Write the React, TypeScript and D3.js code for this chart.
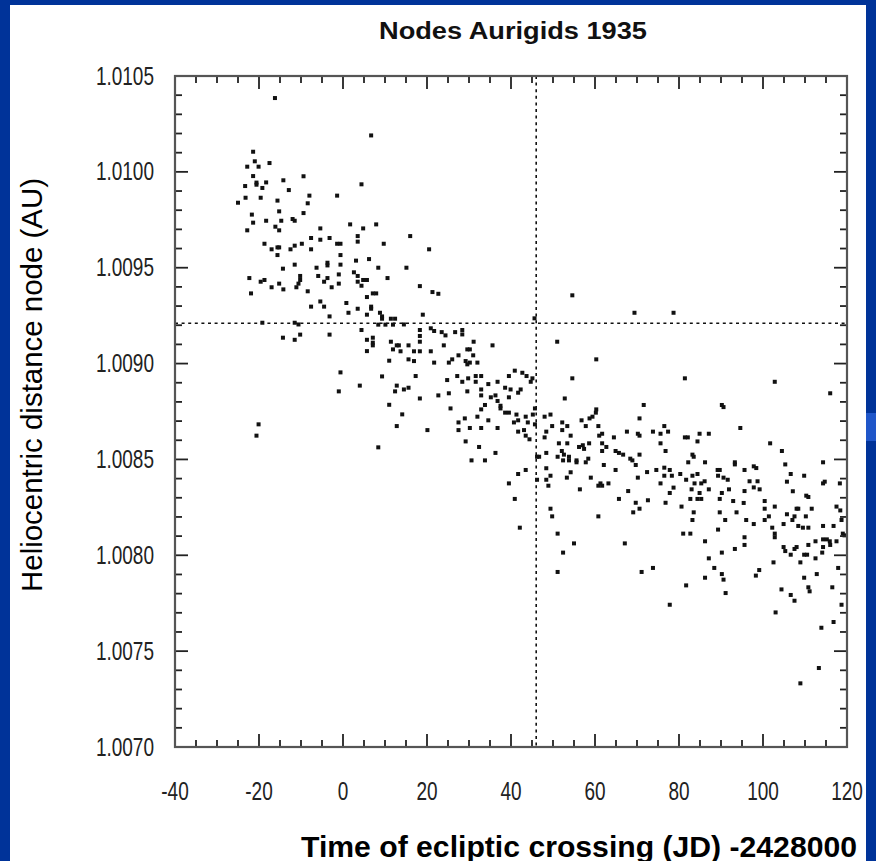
import React from "react";
import * as d3 from "d3";

const chartTitle = "Nodes Aurigids 1935";
const xTitle = "Time of ecliptic crossing (JD) -2428000";
const yTitle = "Heliocentric distance node (AU)";
const xDomain: [number, number] = [-40, 120];
const yDomain: [number, number] = [1.007, 1.0105];
const xTickValues = [-40, -20, 0, 20, 40, 60, 80, 100, 120];
const yTickValues = [1.007, 1.0075, 1.008, 1.0085, 1.009, 1.0095, 1.01, 1.0105];
const refDay = 46;
const refDist = 1.00921;

// [day, heliocentric distance of node (AU)]
const nodes: [number, number][] = [
  [-16.2, 1.010385], [6.7, 1.01019], [-21.4, 1.010105], [-21.0, 1.010055], [-22.8, 1.010027],
  [-20.1, 1.010027], [-17.5, 1.010046], [-21.4, 1.009978], [-9.4, 1.009977], [-23.3, 1.009926],
  [-20.6, 1.009944], [-20.6, 1.009933], [-18.3, 1.009945], [-19.2, 1.009916], [-14.2, 1.009956],
  [-12.9, 1.009905], [4.4, 1.009935], [-23.2, 1.009865], [-19.6, 1.009865], [-25.0, 1.009839],
  [-15.6, 1.00985], [-8.0, 1.009876], [-8.4, 1.009836], [-1.4, 1.009876], [-21.7, 1.009777],
  [-21.4, 1.009735], [-22.8, 1.009695], [-18.3, 1.009745], [-15.2, 1.009794], [-14.7, 1.009745],
  [-16.1, 1.009714], [-15.2, 1.009695], [-12.0, 1.009754], [-11.5, 1.009745], [-9.4, 1.009785],
  [1.7, 1.009726], [4.8, 1.009705], [7.9, 1.009726], [-5.4, 1.009705], [3.5, 1.009665],
  [3.5, 1.009636], [-18.7, 1.009625], [-17.0, 1.009596], [-15.6, 1.009606], [-15.2, 1.009606],
  [-15.6, 1.009566], [-12.5, 1.009596], [-11.5, 1.009615], [-9.8, 1.009625], [-7.6, 1.009655],
  [-7.6, 1.009596], [-5.4, 1.009646], [-3.2, 1.009655], [-1.4, 1.009625], [-0.6, 1.009625],
  [9.7, 1.009625], [-0.6, 1.009566], [3.1, 1.009537], [6.2, 1.009545], [-14.3, 1.009495],
  [-11.5, 1.009516], [-6.3, 1.0095], [-3.7, 1.009526], [-3.7, 1.009512], [-0.6, 1.009516],
  [8.4, 1.0095], [-22.3, 1.009446], [-19.6, 1.009427], [-18.7, 1.009436], [-17.0, 1.009398],
  [-15.2, 1.009417], [-14.2, 1.009387], [-21.9, 1.009366], [-11.1, 1.009398], [-10.6, 1.009417],
  [-10.2, 1.009457], [-10.2, 1.009436], [-8.4, 1.009377], [-5.9, 1.009457], [-4.5, 1.009427],
  [-3.7, 1.009446], [-2.7, 1.009398], [-1.0, 1.009465], [-1.0, 1.009417], [2.6, 1.009476],
  [3.5, 1.009457], [3.5, 1.009427], [4.4, 1.009406], [4.8, 1.009436], [5.7, 1.009436],
  [10.6, 1.009446], [7.1, 1.009366], [7.9, 1.009366], [5.7, 1.009347], [-5.4, 1.009324],
  [-7.6, 1.009297], [-4.5, 1.009297], [0.8, 1.009316], [1.3, 1.009265], [3.5, 1.009286],
  [6.7, 1.009297], [6.7, 1.009286], [5.7, 1.009255], [-3.2, 1.009246], [8.8, 1.009265],
  [9.3, 1.009246], [-19.2, 1.009213], [-11.5, 1.009213], [-10.6, 1.009204], [8.4, 1.009203],
  [10.1, 1.009203], [11.4, 1.009234], [12.4, 1.009234], [11.9, 1.009203], [9.3, 1.009234],
  [4.4, 1.009175], [-10.2, 1.009151], [-3.2, 1.009151], [-14.3, 1.009135], [-11.5, 1.009124],
  [5.7, 1.009124], [7.1, 1.009135], [7.1, 1.009109], [7.1, 1.009095], [5.7, 1.009065],
  [11.4, 1.009114], [11.9, 1.009074], [12.8, 1.009095], [11.0, 1.009015], [-0.6, 1.008954],
  [9.3, 1.008933], [-1.0, 1.008855], [4.0, 1.008885], [12.4, 1.008855], [12.8, 1.008885],
  [11.0, 1.008785],
  [-20.1, 1.008683], [-20.6, 1.008624], [8.4, 1.008563], [12.8, 1.008674],
  [16.0, 1.009665], [20.5, 1.009596], [15.1, 1.0095], [18.3, 1.009404], [21.3, 1.009373],
  [22.7, 1.009364], [54.6, 1.009356], [19.0, 1.009255], [45.6, 1.009236], [14.5, 1.009204],
  [18.3, 1.009175], [18.3, 1.009144], [18.3, 1.009114], [20.9, 1.009184], [21.7, 1.00917],
  [23.5, 1.009164], [24.4, 1.009147], [26.7, 1.009164], [28.4, 1.009175], [28.4, 1.009152],
  [13.3, 1.009095], [15.6, 1.009095], [13.7, 1.009064], [16.9, 1.009064], [18.3, 1.009064],
  [20.9, 1.009064], [24.0, 1.009095], [31.1, 1.009114], [35.6, 1.009095], [51.0, 1.009114],
  [29.6, 1.009074], [30.2, 1.009074], [15.6, 1.009022], [16.9, 1.009013], [21.7, 1.009005],
  [25.2, 1.009005], [26.0, 1.009022], [27.5, 1.009043], [29.2, 1.009013], [30.2, 1.009005],
  [29.6, 1.008996], [31.0, 1.009043], [32.0, 1.009005], [60.3, 1.009022], [17.3, 1.008935],
  [24.8, 1.008914], [27.2, 1.008935], [28.4, 1.008905], [29.8, 1.008923], [31.6, 1.008935],
  [32.9, 1.008935], [31.6, 1.008905], [34.6, 1.008893], [36.8, 1.008905], [39.5, 1.008935],
  [40.9, 1.008963], [42.7, 1.008952], [43.7, 1.008935], [45.1, 1.008923], [44.7, 1.008905],
  [54.6, 1.008923], [14.5, 1.008865], [15.6, 1.008874], [22.7, 1.008834], [25.2, 1.008845],
  [29.6, 1.008855], [32.9, 1.008865], [32.9, 1.008834], [35.2, 1.008824], [36.3, 1.008834],
  [36.8, 1.008805], [38.6, 1.008874], [39.5, 1.008824], [39.9, 1.008865], [41.7, 1.008848],
  [42.3, 1.008865], [18.3, 1.008818], [52.8, 1.008818], [25.6, 1.008766], [33.8, 1.008784],
  [32.9, 1.008761], [37.5, 1.00878], [45.7, 1.008766], [60.3, 1.008761], [37.5, 1.008766],
  [69.4, 1.009265], [78.7, 1.009265], [81.4, 1.008923], [102.8, 1.008905], [116.0, 1.008845],
  [71.6, 1.008784], [90.2, 1.008784], [90.6, 1.008773],
  [14.1, 1.008735], [20.1, 1.008653], [27.5, 1.008693], [27.5, 1.008653], [29.0, 1.008714],
  [32.0, 1.008723], [30.2, 1.008664], [32.9, 1.008664], [34.6, 1.008704], [36.8, 1.008664],
  [29.2, 1.008594], [32.4, 1.008565], [30.6, 1.008495], [33.8, 1.008495], [36.3, 1.008534],
  [38.6, 1.008744], [39.5, 1.008744], [41.3, 1.008734], [40.7, 1.008693], [41.7, 1.008704],
  [43.5, 1.008723], [44.0, 1.008693], [45.2, 1.008734], [45.7, 1.008683], [41.7, 1.008645],
  [43.1, 1.008653], [43.5, 1.008624], [44.4, 1.008605], [48.0, 1.008723], [49.4, 1.008734],
  [49.8, 1.008674], [48.4, 1.008645], [48.0, 1.008615], [46.2, 1.008514], [46.7, 1.008514],
  [48.4, 1.008534], [52.2, 1.008693], [52.2, 1.008653], [53.4, 1.008674], [54.2, 1.008624],
  [56.8, 1.008704], [57.8, 1.008674], [58.7, 1.008714], [59.4, 1.008723], [60.2, 1.008744],
  [60.8, 1.008674], [61.0, 1.008624], [61.7, 1.008634], [64.5, 1.008615], [51.4, 1.008584],
  [53.4, 1.008584], [56.2, 1.008565], [57.1, 1.008574], [57.4, 1.008555], [58.6, 1.008584],
  [61.7, 1.008584], [62.7, 1.008565], [61.7, 1.008544], [52.1, 1.008544], [51.1, 1.008514],
  [52.6, 1.008525], [52.4, 1.008495], [53.8, 1.008514], [53.8, 1.008495], [55.6, 1.008495],
  [55.6, 1.008485], [57.8, 1.008485], [58.4, 1.008504], [64.9, 1.008544], [65.7, 1.008534],
  [62.1, 1.008471], [64.9, 1.008445], [48.4, 1.008454], [48.4, 1.008394], [49.4, 1.008415],
  [48.9, 1.008363], [46.2, 1.008394], [43.5, 1.008445], [41.7, 1.008424], [39.5, 1.008375],
  [40.9, 1.008294], [42.1, 1.008144], [54.2, 1.008433], [53.3, 1.008405], [59.0, 1.008405],
  [56.4, 1.008344], [60.8, 1.008363], [61.3, 1.008375], [61.7, 1.008363], [63.2, 1.008375],
  [65.7, 1.008294], [49.4, 1.008243], [49.8, 1.008203], [60.8, 1.008203], [51.1, 1.008113],
  [55.0, 1.008062], [52.4, 1.008014], [51.1, 1.007913],
  [70.6, 1.008714], [67.6, 1.008645], [70.2, 1.008634], [70.6, 1.008624], [73.8, 1.008645],
  [75.6, 1.008634], [76.5, 1.008674], [77.4, 1.008645], [75.6, 1.008584], [76.8, 1.008544],
  [81.4, 1.008615], [82.1, 1.008615], [84.4, 1.008594], [84.9, 1.008634], [87.1, 1.008634],
  [94.6, 1.008664], [101.7, 1.008584], [104.5, 1.008544], [66.7, 1.008525], [68.4, 1.008504],
  [68.9, 1.008495], [70.6, 1.008525], [69.7, 1.008471], [70.2, 1.008405], [67.9, 1.008335],
  [72.4, 1.008434], [74.6, 1.008445], [76.5, 1.008457], [77.8, 1.008445], [76.5, 1.008415],
  [78.3, 1.008415], [75.6, 1.008375], [78.7, 1.008353], [77.8, 1.008325], [76.8, 1.008274],
  [72.6, 1.008287], [69.7, 1.008274], [69.1, 1.008224], [70.6, 1.008243], [80.3, 1.008424],
  [81.7, 1.008394], [82.2, 1.008485], [83.2, 1.008525], [83.5, 1.008514], [86.2, 1.008485],
  [83.2, 1.008415], [84.4, 1.008424], [83.7, 1.008375], [83.0, 1.008344], [85.3, 1.008375],
  [86.1, 1.008386], [84.9, 1.008325], [84.4, 1.008294], [85.3, 1.008294], [87.1, 1.008344],
  [82.7, 1.008294], [80.6, 1.008254], [83.5, 1.008224], [83.2, 1.008184], [81.0, 1.008113],
  [82.7, 1.008113], [89.2, 1.008445], [89.7, 1.008445], [89.3, 1.008415], [90.6, 1.008405],
  [91.6, 1.008394], [90.2, 1.008325], [91.9, 1.008344], [89.7, 1.008294], [89.7, 1.008224],
  [91.0, 1.008184], [89.3, 1.008134], [93.3, 1.008485], [93.3, 1.008474], [95.6, 1.008445],
  [95.6, 1.008335], [96.8, 1.008386], [97.8, 1.008354], [97.8, 1.008464], [98.4, 1.008455],
  [98.7, 1.008386], [99.2, 1.008344], [92.9, 1.008283], [93.7, 1.008224], [95.4, 1.008273],
  [96.0, 1.008184], [97.8, 1.008163], [100.4, 1.008283], [100.4, 1.008243], [100.4, 1.008184],
  [101.4, 1.008203], [102.8, 1.008254], [102.2, 1.008144], [102.8, 1.008113], [102.8, 1.008094],
  [104.9, 1.008163], [105.7, 1.008214], [105.7, 1.008384], [105.3, 1.008474], [106.6, 1.008424],
  [107.1, 1.008334], [108.0, 1.008243], [108.4, 1.008243], [107.5, 1.008203], [107.0, 1.008184],
  [108.4, 1.008153], [109.5, 1.008144], [110.8, 1.008144], [110.2, 1.008203], [111.6, 1.008243],
  [109.8, 1.008415], [110.3, 1.008311], [110.8, 1.008304], [114.3, 1.008485], [114.3, 1.008375],
  [114.7, 1.008384], [118.3, 1.008375], [117.5, 1.008254], [118.4, 1.008234], [118.7, 1.008184],
  [114.3, 1.008153], [116.8, 1.008153], [119.0, 1.008113], [119.4, 1.008104], [112.5, 1.008073],
  [114.3, 1.008083], [115.2, 1.008083], [115.9, 1.008073], [117.5, 1.008073], [116.0, 1.008054],
  [114.3, 1.008043], [114.1, 1.008014], [110.8, 1.008054], [109.8, 1.008003], [110.5, 1.008003],
  [112.5, 1.007984], [108.9, 1.007963], [108.0, 1.008043], [107.5, 1.008033], [104.9, 1.008043],
  [105.3, 1.008022], [106.6, 1.008003], [102.5, 1.007963], [112.8, 1.007902], [109.8, 1.007883],
  [110.8, 1.007833], [111.1, 1.007812], [116.5, 1.007833], [117.9, 1.007934], [104.4, 1.007822],
  [106.6, 1.007793], [107.5, 1.007763], [103.0, 1.007702], [118.7, 1.007742], [116.8, 1.007652],
  [113.9, 1.007622], [113.3, 1.007412], [108.9, 1.007332], [86.2, 1.008073], [87.1, 1.007984],
  [88.4, 1.007934], [90.2, 1.007902], [90.6, 1.007873], [86.2, 1.007883], [91.1, 1.007803],
  [81.7, 1.007843], [77.8, 1.007742], [71.1, 1.007913], [73.8, 1.007934], [93.3, 1.008033],
  [95.6, 1.008094], [95.6, 1.008054], [98.3, 1.007894], [99.1, 1.007923], [90.2, 1.008014],
  [67.1, 1.008062],
];

const W = 876;
const H = 861;
const left = 175, right = 847, top = 76, bottom = 747;
const font = "'Liberation Sans', Arial, Helvetica, sans-serif";
const squeeze = 0.76;

export default function App() {
  const x = d3.scaleLinear().domain(xDomain).range([left, right]);
  const y = d3.scaleLinear().domain(yDomain).range([bottom, top]);

  const xMinor = d3.range(xDomain[0], xDomain[1] + 0.001, 5);
  const yMinor = d3.range(0, 36).map((i) => yDomain[0] + i * 0.0001);
  const isXMajor = (v: number) => Math.abs(v / 20 - Math.round(v / 20)) < 1e-6;
  const isYMajor = (i: number) => i % 5 === 0;

  const tickStroke = "#222";
  const maj = 13, min = 7;

  return (
    <svg width={W} height={H} style={{ position: "absolute", left: 0, top: 0, display: "block" }}>
      <rect x={0} y={0} width={W} height={H} fill="#003399" />
      <rect x={866} y={413} width={10} height={28} fill="#1f56c9" />
      <rect x={10} y={5} width={856} height={H - 5} fill="#ffffff" />

      <text x={(left + right) / 2 + 2} y={39} textAnchor="middle" fontFamily={font} fontWeight="bold" fontSize={23} fill="#111"
        textLength={268} lengthAdjust="spacingAndGlyphs">
        {chartTitle}
      </text>

      {/* dashed reference lines */}
      <line x1={x(refDay)} x2={x(refDay)} y1={top} y2={bottom} stroke="#111" strokeWidth={1.6} strokeDasharray="3,3.6" />
      <line x1={left} x2={right} y1={y(refDist)} y2={y(refDist)} stroke="#111" strokeWidth={1.6} strokeDasharray="3,3.6" />

      {/* points */}
      {nodes.map(([d, v], i) => (
        <rect key={i} x={x(d) - 2} y={y(v) - 2} width={4} height={4} fill="#111" />
      ))}

      {/* x ticks */}
      {xMinor.map((v, i) => {
        const L = isXMajor(v) ? maj : min;
        return (
          <g key={"xt" + i}>
            <line x1={x(v)} x2={x(v)} y1={bottom} y2={bottom - L} stroke={tickStroke} strokeWidth={1.8} />
            <line x1={x(v)} x2={x(v)} y1={top} y2={top + L} stroke={tickStroke} strokeWidth={1.8} />
          </g>
        );
      })}
      {/* y ticks */}
      {yMinor.map((v, i) => {
        const L = isYMajor(i) ? maj : min;
        return (
          <g key={"yt" + i}>
            <line x1={left} x2={left + L} y1={y(v)} y2={y(v)} stroke={tickStroke} strokeWidth={1.8} />
            <line x1={right} x2={right - L} y1={y(v)} y2={y(v)} stroke={tickStroke} strokeWidth={1.8} />
          </g>
        );
      })}

      <rect x={left} y={top} width={right - left} height={bottom - top} fill="none" stroke="#555" strokeWidth={2.2} />

      {xTickValues.map((v) => (
        <text key={"xl" + v} transform={`translate(${x(v)},800) scale(${squeeze},1)`} textAnchor="middle"
          fontFamily={font} fontSize={25} fill="#222">
          {String(v)}
        </text>
      ))}
      {yTickValues.map((v) => (
        <text key={"yl" + v} transform={`translate(154,${y(v) + 8.5}) scale(${squeeze},1)`} textAnchor="end"
          fontFamily={font} fontSize={25} fill="#222">
          {v.toFixed(4)}
        </text>
      ))}

      <text x={857} y={857} textAnchor="end" fontFamily={font} fontWeight="bold" fontSize={29} fill="#000"
        textLength={556} lengthAdjust="spacingAndGlyphs">
        {xTitle}
      </text>
      <text transform="translate(42,385) rotate(-90)" textAnchor="middle" fontFamily={font} fontSize={29} fill="#000"
        textLength={414} lengthAdjust="spacingAndGlyphs">
        {yTitle}
      </text>
    </svg>
  );
}
